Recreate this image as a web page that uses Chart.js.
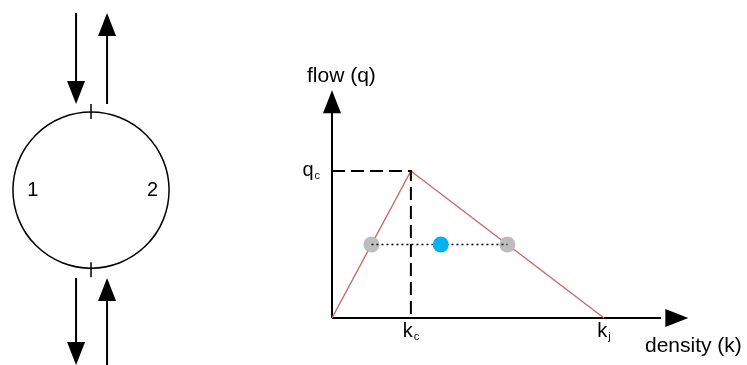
<!DOCTYPE html>
<html>
<head>
<meta charset="utf-8">
<script src="https://cdn.jsdelivr.net/npm/chart.js@4/dist/chart.umd.min.js"></script>
<style>
  body { margin: 0; background: #fff; }
  #chart { display: block; }
</style>
</head>
<body>
<canvas id="chart" width="747" height="365"></canvas>
<script>
// fundamental diagram values (density k, flow q)
const criticalK = 29;
const jamK = 100;
const capacityQ = 100;
const curveK = [0, criticalK, jamK];
const curveQ = [0, capacityQ, 0];
const stateK = [14.5, 64.5];
const stateQ = [50, 50];
const meanK = [40];
const meanQ = [50];
const axisEnd = { k: 131, q: 155 };

// tick labels: [main, subscript, value]
const qTicks = [["q", "c", capacityQ]];
const kTicks = [["k", "c", criticalK], ["k", "j", jamK]];
const axisTitles = { q: "flow (q)", k: "density (k)" };

// the two-direction node sketch on the left, same units
const nodeCenter = { k: -88.6, q: 87 };
const nodeRadiusK = 28.7;
const nodeLabels = [["1", -110], ["2", -66]];
const arrowsDown = { k: -94.1, topQ: [207.5, 27.2], bottomQ: [145.6, -32] };
const arrowsUp = { k: -82.7, topQ: [145.6, -32], tipQ: [207.5, 27.2] };

const red = "#c46e6e";
const font = "Liberation Sans, Arial, sans-serif";

function pts(xs, ys) {
  return xs.map((x, i) => ({ x, y: ys[i] }));
}

function arrowHead(ctx, x, y, dir) {
  // dir: "up" | "down" | "right"
  ctx.beginPath();
  if (dir === "up") {
    ctx.moveTo(x, y); ctx.lineTo(x - 9, y + 23); ctx.lineTo(x + 9, y + 23);
  } else if (dir === "down") {
    ctx.moveTo(x, y); ctx.lineTo(x - 9, y - 23); ctx.lineTo(x + 9, y - 23);
  } else {
    ctx.moveTo(x, y); ctx.lineTo(x - 23, y - 9); ctx.lineTo(x - 23, y + 9);
  }
  ctx.closePath();
  ctx.fill();
}

function subLabel(ctx, main, sub, x, y, align) {
  ctx.font = "20px " + font;
  const w = ctx.measureText(main).width;
  ctx.font = "11px " + font;
  const ws = ctx.measureText(sub).width;
  let left = x;
  if (align === "center") left = x - (w + ws + 1) / 2;
  if (align === "right") left = x - (w + ws + 1);
  ctx.font = "20px " + font;
  ctx.textAlign = "left";
  ctx.textBaseline = "alphabetic";
  ctx.fillText(main, left, y);
  ctx.font = "11px " + font;
  ctx.fillText(sub, left + w + 1, y + 3);
}

const sketch = {
  id: "sketch",
  afterDraw(chart) {
    const { ctx, scales: { x, y } } = chart;
    ctx.save();
    ctx.fillStyle = "#000";
    ctx.strokeStyle = "#000";

    // axis arrow heads
    arrowHead(ctx, x.getPixelForValue(0), y.getPixelForValue(axisEnd.q), "up");
    arrowHead(ctx, x.getPixelForValue(axisEnd.k), y.getPixelForValue(0), "right");

    // titles and ticks
    ctx.font = "21px " + font;
    ctx.textAlign = "left";
    ctx.textBaseline = "alphabetic";
    ctx.fillText(axisTitles.q, x.getPixelForValue(0) - 25, 82);
    ctx.fillText(axisTitles.k, 645, 352);
    qTicks.forEach(([m, s, v]) => subLabel(ctx, m, s, x.getPixelForValue(0) - 12, y.getPixelForValue(v) + 5, "right"));
    kTicks.forEach(([m, s, v]) => subLabel(ctx, m, s, x.getPixelForValue(v), y.getPixelForValue(0) + 19, "center"));

    // node sketch
    const cx = x.getPixelForValue(nodeCenter.k);
    const cy = y.getPixelForValue(nodeCenter.q);
    const r = x.getPixelForValue(nodeCenter.k + nodeRadiusK) - cx;
    ctx.lineWidth = 1.5;
    ctx.beginPath();
    ctx.arc(cx, cy, r, 0, Math.PI * 2);
    ctx.stroke();
    ctx.beginPath();
    ctx.moveTo(cx, cy - r - 8); ctx.lineTo(cx, cy - r + 7);
    ctx.moveTo(cx, cy + r - 6); ctx.lineTo(cx, cy + r + 9);
    ctx.stroke();

    ctx.font = "20px " + font;
    ctx.textAlign = "center";
    ctx.textBaseline = "middle";
    nodeLabels.forEach(([t, k]) => ctx.fillText(t, x.getPixelForValue(k), cy));

    ctx.lineWidth = 2;
    const dx = x.getPixelForValue(arrowsDown.k);
    arrowsDown.topQ.forEach((q, i) => {
      const y0 = y.getPixelForValue(q), y1 = y.getPixelForValue(arrowsDown.bottomQ[i]);
      ctx.beginPath(); ctx.moveTo(dx, y0); ctx.lineTo(dx, y1 - 10); ctx.stroke();
      arrowHead(ctx, dx, y1, "down");
    });
    const ux = x.getPixelForValue(arrowsUp.k);
    arrowsUp.tipQ.forEach((q, i) => {
      const y0 = y.getPixelForValue(q), y1 = y.getPixelForValue(arrowsUp.topQ[i]);
      ctx.beginPath(); ctx.moveTo(ux, y1); ctx.lineTo(ux, y0 + 10); ctx.stroke();
      arrowHead(ctx, ux, y0, "up");
    });
    ctx.restore();
  }
};

new Chart(document.getElementById("chart"), {
  type: "scatter",
  data: {
    datasets: [
      { data: pts(meanK, meanQ), pointRadius: 8, pointBackgroundColor: "#00b4f0", pointBorderWidth: 0, order: 0 },
      { data: pts(stateK, stateQ), showLine: true, borderColor: "#000", borderWidth: 1.5, borderDash: [2, 3], pointRadius: 0, order: 1 },
      { data: pts(stateK, stateQ), pointRadius: 8, pointBackgroundColor: "#bdbdbd", pointBorderWidth: 0, order: 2 },
      { data: pts([0, criticalK, criticalK], [capacityQ, capacityQ, 0]), showLine: true, borderColor: "#000", borderWidth: 2, borderDash: [13, 6], pointRadius: 0, order: 3 },
      { data: pts(curveK, curveQ), showLine: true, borderColor: red, borderWidth: 1.5, pointRadius: 0, order: 4 },
      { data: pts([0, 0], [axisEnd.q - 10, 0]), showLine: true, borderColor: "#000", borderWidth: 2, pointRadius: 0, order: 5 },
      { data: pts([0, axisEnd.k - 10], [0, 0]), showLine: true, borderColor: "#000", borderWidth: 2, pointRadius: 0, order: 6 }
    ]
  },
  options: {
    responsive: false,
    animation: false,
    layout: { padding: 0, autoPadding: false },
    plugins: { legend: { display: false }, tooltip: { enabled: false } },
    scales: {
      x: { type: "linear", display: false, min: -122.06, max: 152.57 },
      y: { type: "linear", display: false, min: -31.97, max: 216.33 }
    }
  },
  plugins: [sketch]
});
</script>
</body>
</html>
